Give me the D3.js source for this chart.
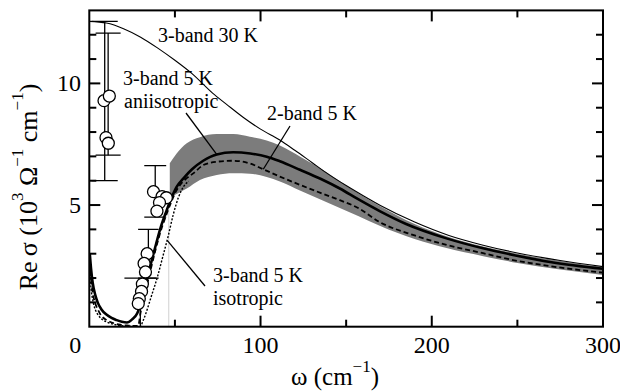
<!DOCTYPE html>
<html><head><meta charset="utf-8">
<script src="https://cdn.jsdelivr.net/npm/d3@7"></script>
<style>body{margin:0;background:#fff} text{font-family:"Liberation Serif","Times New Roman",serif;fill:#000}</style>
</head><body><svg id="c" width="620" height="392"></svg>
<script>
// ---- data ----
const xTickLabels=[0,100,200,300];
const xMinorTicks=[50,150,250];
const xMajorTicks=[100,200];
const yTickLabels=[5,10];
const yMinorTicks=[1,2,3,4,6,7,8,9,11,12];
// 3-band 30 K
const band3_30K=[[0,12.55],[10,12.48],[20,12.25],[30,11.9],[40,11.45],[50,10.95],[60,10.4],[72,9.6],[80,9.15],[90,8.6],[100,8.12],[111,7.68],[120,7.25],[130,6.75],[140,6.25],[150,5.8],[160,5.38],[170,4.98],[190,4.3],[210,3.75],[230,3.35],[250,3.03],[275,2.72],[300,2.47]];
// 3-band 5 K anisotropic (thick)
const band3_5K_aniso=[[0.3,3.0],[1,2.4],[2,1.8],[3.5,1.3],[5,0.98],[7,0.72],[10,0.5],[13,0.36],[16,0.27],[19,0.2],[22,0.17],[25,0.3],[28,0.55],[30,0.95],[33,1.75],[36,2.6],[39,3.4],[42,4.15],[45,4.75],[48,5.3],[51,5.75],[55,6.1],[60,6.47],[66.5,6.82],[74.4,7.08],[84,7.17],[94,7.12],[103.6,6.99],[111.3,6.8],[123,6.45],[135,6.08],[146.3,5.68],[157,5.24],[169.6,4.75],[185,4.22],[208.6,3.63],[230,3.22],[247.5,2.95],[270,2.65],[300,2.38]];
// 2-band 5 K (dashed)
const band2_5K=[[0.3,2.6],[1,2.0],[2,1.4],[3.5,0.95],[5,0.7],[7,0.45],[10,0.28],[14,0.15],[18,0.08],[22,0.05],[26,0.03],[28.5,0.03],[30,0.6],[33,1.5],[36,2.4],[39,3.25],[42,4.0],[45,4.6],[48,5.15],[50.5,5.55],[52.9,5.82],[56,6.05],[60.7,6.3],[66.5,6.64],[74.4,6.78],[84.1,6.82],[93.8,6.71],[101.6,6.47],[111.3,6.17],[123,5.83],[135,5.5],[146.3,5.2],[157,4.88],[169.6,4.3],[190,3.75],[208.6,3.36],[230,3.02],[247.5,2.74],[270,2.48],[300,2.22]];
// 3-band 5 K isotropic (dotted)
const band3_5K_iso=[[0.3,2.3],[1,1.6],[2,1.1],[3.5,0.7],[5,0.5],[7,0.33],[10,0.2],[14,0.1],[18,0.05],[24,0.02],[29.5,0.0],[32,0.35],[36,1.2],[40,2.1],[43,2.9],[46,3.7],[49,4.6],[52,5.3],[55,5.75],[58,5.98]];
// shaded range
const rangeOmega=[47,51,56.9,64.6,74.4,84.1,93.8,103.6,111.3,123,135,146.3,157,169.6,190,208.6,230,250,275,300];
const rangeUpper=[6.72,7.12,7.54,7.79,7.92,7.92,7.81,7.65,7.45,7.0,6.5,5.98,5.48,4.96,4.22,3.72,3.3,3.0,2.7,2.45];
const rangeLower=[5.3,5.45,5.68,6.03,6.24,6.31,6.29,6.15,5.97,5.6,5.23,4.88,4.55,4.15,3.6,3.23,2.9,2.62,2.35,2.13];
// measured points
const ptOmega=[8.6,11.7,9.75,11.1,37.5,42.5,45,41,39.5,33.8,32,32.8,31,30.5,29.2,28.6];
const ptSigma=[9.29,9.48,7.77,7.54,5.55,5.35,5.3,5.1,4.75,3.0,2.6,2.25,1.75,1.45,1.15,0.95];
// error bars: omega, low, high, half x-extent of caps
const ebOmega=[9,11,38.5,34.5,29.8];
const ebLow=[6.0,7.05,4.5,2.0,0];
const ebHigh=[12.55,12.07,6.62,4.0,2.0];
const ebHalf=[7.6,7.3,6.4,6.0,9.3];

// ---- layout ----
const svg=d3.select("#c");
const L=89.3,R=603,T=10.4,B=326.7;
const x=d3.scaleLinear().domain([0,300]).range([L,R]);
const y=d3.scaleLinear().domain([0,13]).range([B,T]);

svg.append("clipPath").attr("id","clip").append("rect").attr("x",L).attr("y",T).attr("width",R-L).attr("height",B-T);
const g=svg.append("g").attr("clip-path","url(#clip)");

// band
const bandData=rangeOmega.map((w,i)=>({w,u:rangeUpper[i],l:rangeLower[i]}));
g.append("path").datum(bandData)
 .attr("d",d3.area().x(d=>x(d.w)).y0(d=>y(d.l)).y1(d=>y(d.u)).curve(d3.curveMonotoneX))
 .attr("fill","#7c7c7c").attr("stroke","none");
// light vertical guide at band start
g.append("line").attr("x1",x(rangeOmega[0])-1).attr("x2",x(rangeOmega[0])-1).attr("y1",y(0)).attr("y2",y(rangeLower[0]))
 .attr("stroke","#d0d0d0").attr("stroke-width",1);

const line=d3.line().x(d=>x(d[0])).y(d=>y(d[1])).curve(d3.curveMonotoneX);
g.append("path").attr("d",line(band3_30K)).attr("fill","none").attr("stroke","#000").attr("stroke-width",1.1);
g.append("path").attr("d",line(band3_5K_iso)).attr("fill","none").attr("stroke","#000").attr("stroke-width",1.4).attr("stroke-dasharray","2,1.6");
g.append("path").attr("d",line(band2_5K)).attr("fill","none").attr("stroke","#000").attr("stroke-width",1.8).attr("stroke-dasharray","5,3");
g.append("path").attr("d",line(band3_5K_aniso)).attr("fill","none").attr("stroke","#000").attr("stroke-width",2.6);

// error bars
ebOmega.forEach((w,i)=>{
  g.append("line").attr("x1",x(w)).attr("x2",x(w)).attr("y1",y(ebLow[i])).attr("y2",y(ebHigh[i])).attr("stroke","#000").attr("stroke-width",1.3);
  const hw=x(ebHalf[i])-x(0);
  [ebLow[i],ebHigh[i]].forEach(v=>{ if(v<=0) return;
    g.append("line").attr("x1",x(w)-hw).attr("x2",x(w)+hw).attr("y1",y(v)).attr("y2",y(v)).attr("stroke","#000").attr("stroke-width",1.3);
  });
});
// points
g.selectAll("circle.p").data(ptOmega.map((w,i)=>[w,ptSigma[i]])).enter().append("circle")
 .attr("cx",d=>x(d[0])).attr("cy",d=>y(d[1])).attr("r",6).attr("fill","#fff").attr("stroke","#000").attr("stroke-width",1.3);

// frame and ticks
svg.append("rect").attr("x",L).attr("y",T).attr("width",R-L).attr("height",B-T).attr("fill","none").attr("stroke","#000").attr("stroke-width",2);
const tk=(x1,y1,x2,y2)=>svg.append("line").attr("x1",x1).attr("y1",y1).attr("x2",x2).attr("y2",y2).attr("stroke","#000").attr("stroke-width",2);
const MAJ=11,MIN=7;
xMajorTicks.forEach(v=>{tk(x(v),B,x(v),B-MAJ);tk(x(v),T,x(v),T+MAJ);});
xMinorTicks.forEach(v=>{tk(x(v),B,x(v),B-MIN);tk(x(v),T,x(v),T+MIN);});
yTickLabels.forEach(v=>{tk(L,y(v),L+MAJ,y(v));tk(R,y(v),R-MAJ,y(v));});
yMinorTicks.forEach(v=>{tk(L,y(v),L+MIN,y(v));tk(R,y(v),R-MIN,y(v));});

// tick labels
xTickLabels.forEach((v,i)=>{
  svg.append("text").attr("x",x(v)-(i===0?14:0)).attr("y",353).attr("text-anchor","middle").attr("font-size",24).text(v);
});
yTickLabels.forEach(v=>{
  svg.append("text").attr("x",81).attr("y",y(v)+8).attr("text-anchor","end").attr("font-size",24).text(v);
});

// axis titles
const yl=svg.append("text").attr("transform","translate(37,187) rotate(-90)").attr("text-anchor","middle").attr("font-size",26);
yl.append("tspan").text("Re\u2009\u03c3  (10");
yl.append("tspan").attr("font-size",17).attr("dy",-14).text("3");
yl.append("tspan").attr("dy",14).text(" \u03a9");
yl.append("tspan").attr("font-size",17).attr("dy",-14).text("\u22121");
yl.append("tspan").attr("dy",14).text(" cm");
yl.append("tspan").attr("font-size",17).attr("dy",-14).text("\u22121");
yl.append("tspan").attr("dy",14).text(")");

const xl=svg.append("text").attr("x",291).attr("y",385).attr("font-size",25);
xl.append("tspan").text("\u03c9  (cm");
xl.append("tspan").attr("font-size",17).attr("dy",-13).text("\u22121");
xl.append("tspan").attr("dy",13).text(")");

// annotations
const ann=(t,xx,yy)=>svg.append("text").attr("x",xx).attr("y",yy).attr("font-size",20).text(t);
ann("3-band 30 K",158,42);
ann("3-band 5 K",123,85);
ann("aniisotropic",124,108);
ann("2-band 5 K",267,120);
ann("3-band 5 K",213,282);
ann("isotropic",213,305);
const pl=(x1,y1,x2,y2)=>svg.append("line").attr("x1",x1).attr("y1",y1).attr("x2",x2).attr("y2",y2).attr("stroke","#000").attr("stroke-width",1.3);
pl(186,113,x(74.4),y(7.08));
pl(290,126,x(101.6),y(6.47));
pl(205,286,x(45.5),y(3.55));
</script></body></html>
